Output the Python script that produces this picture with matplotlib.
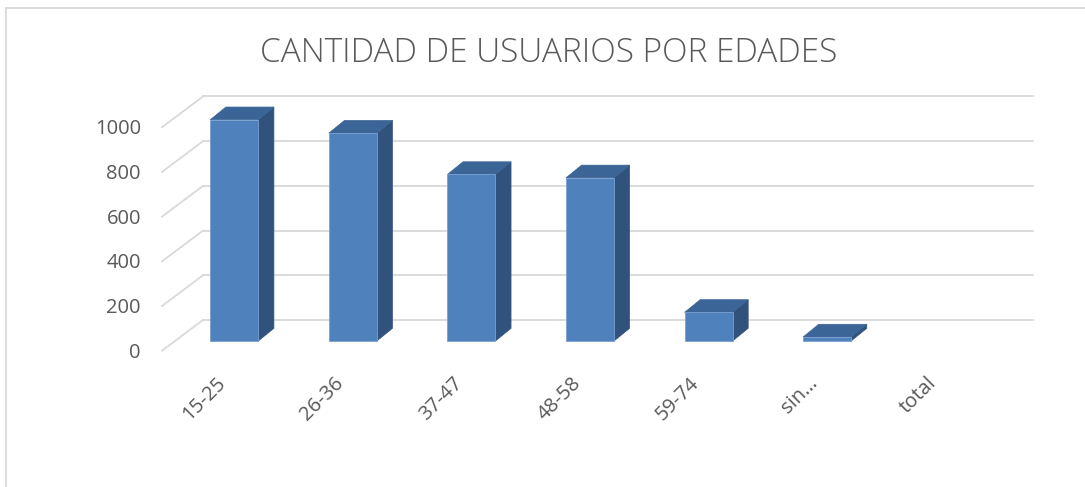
import matplotlib
matplotlib.use("Agg")
import matplotlib.pyplot as plt
from matplotlib.patches import Polygon, Rectangle
from matplotlib.lines import Line2D

# datos
categorias = ["15-25", "26-36", "37-47", "48-58", "59-74", "sin…", "total"]
usuarios = [990, 930, 745, 730, 128, 18, 0]
ticks_y = [0, 200, 400, 600, 800, 1000]
titulo = "CANTIDAD DE USUARIOS POR EDADES"

# colores estilo Excel
c_frente = "#4F81BD"
c_lado = "#31527C"
c_techo = "#3B6596"
c_grid = "#D9D9D9"
c_texto = "#595959"

plt.rcParams['font.family'] = ['Open Sans', 'DejaVu Sans']

fig = plt.figure(figsize=(10.85, 4.87), dpi=100)
W, H = 1085, 487

# plano de las barras: x -0.5 -> 175 px, 6.5 -> 1005 px; y 0 -> 341 px, 1000 -> 117.5 px
ax = fig.add_axes([175 / W, (H - 341) / H, 830 / W, 223.5 / H])
ax.set_xlim(-0.5, len(categorias) - 0.5)
ax.set_ylim(0, 1000)
ax.axis("off")


def shift(x, y, dxp, dyp):
    """mueve un punto de datos unos pixeles (profundidad del 3D)."""
    X, Y = ax.transData.transform((x, y))
    return ax.transData.inverted().transform((X + dxp, Y + dyp))


fondo = (28, 21)      # pared del fondo
frente = (-13, -9.7)  # borde delantero del suelo
prof = (15.6, 12.7)   # profundidad de cada barra

x0, x1 = -0.5, len(categorias) - 0.5
for v in ticks_y:
    a = shift(x0, v, *fondo)
    b = shift(x1, v, *fondo)
    c = shift(x0, v, *frente)
    ax.add_line(Line2D([a[0], b[0]], [a[1], b[1]], color=c_grid, lw=1.3,
                       clip_on=False, zorder=1))
    ax.add_line(Line2D([c[0], a[0]], [c[1], a[1]], color=c_grid, lw=1.3,
                       clip_on=False, zorder=1))
    t = shift(x0, v, frente[0] - 21, frente[1] - 2)
    ax.text(t[0], t[1], str(v), ha="right", va="center", fontsize=14.5,
            color=c_texto)

w = 0.405
for i, v in enumerate(usuarios):
    if v <= 0:
        continue
    l, r = i - w / 2, i + w / 2
    ax.add_patch(Rectangle((l, 0), w, v, facecolor=c_frente,
                           edgecolor="#7A9FD0", lw=0.6, zorder=3, clip_on=False))
    lado = [(r, 0), (r, v), shift(r, v, *prof), shift(r, 0, *prof)]
    ax.add_patch(Polygon(lado, closed=True, facecolor=c_lado, edgecolor=c_lado,
                         lw=0.5, zorder=2, clip_on=False))
    techo = [(l, v), (r, v), shift(r, v, *prof), shift(l, v, *prof)]
    ax.add_patch(Polygon(techo, closed=True, facecolor=c_techo, edgecolor=c_techo,
                         lw=0.5, zorder=2, clip_on=False))

for i, cat in enumerate(categorias):
    p = shift(i, 0, -12, -39)
    ax.text(p[0], p[1], cat, rotation=45, rotation_mode="anchor",
            ha="right", va="center", fontsize=14.5, color=c_texto)

fig.text(549 / W, 1 - 53 / H, titulo, ha="center", va="center",
         fontsize=24, color=c_texto, fontweight="light")

# borde del area del grafico
fig.add_artist(Line2D([6 / W, 6 / W], [0, 1 - 8 / H], color=c_grid, lw=1.3,
                      transform=fig.transFigure))
fig.add_artist(Line2D([6 / W, 1], [1 - 8 / H, 1 - 8 / H], color=c_grid, lw=1.3,
                      transform=fig.transFigure))

fig.savefig("out.png", dpi=100)
